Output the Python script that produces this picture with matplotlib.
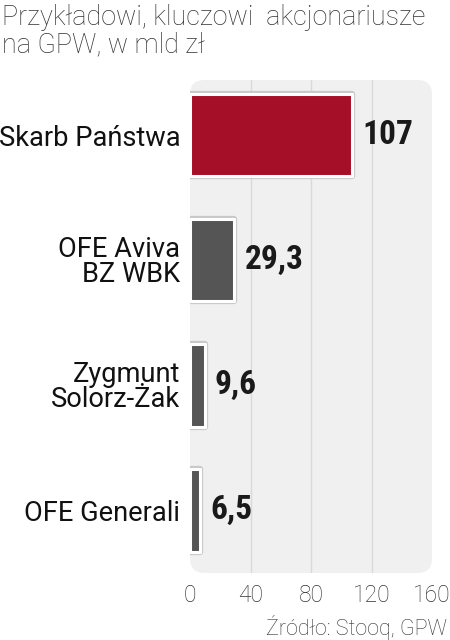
import matplotlib
matplotlib.use("Agg")
import matplotlib.pyplot as plt
from matplotlib.patches import FancyBboxPatch
import matplotlib.patheffects as pe
from matplotlib import font_manager as fm

categories = ["Skarb Państwa", "OFE Aviva\nBZ WBK", "Zygmunt\nSolorz-Żak", "OFE Generali"]
values = [107, 29.3, 9.6, 6.5]
value_labels = ["107", "29,3", "9,6", "6,5"]
bar_colors = ["#a50f28", "#555555", "#555555", "#555555"]
xticks = [0, 40, 80, 120, 160]
title = "Przykładowi, kluczowi  akcjonariusze\nna GPW, w mld zł"
source = "Źródło: Stooq, GPW"

names = {f.name for f in fm.fontManager.ttflist}
narrow = "Roboto"
for cand in ["Roboto Condensed", "Liberation Sans Narrow", "DejaVu Sans Condensed"]:
    if cand in names:
        narrow = cand
        break

W, H = 450, 640
fig = plt.figure(figsize=(W / 100, H / 100), dpi=100)
ax = fig.add_axes([190 / W, 1 - 573 / H, (432 - 190) / W, (573 - 80) / H])
ax.set_facecolor("none")
for s in ax.spines.values():
    s.set_visible(False)

bg = FancyBboxPatch((0, 0), 1, 1, boxstyle="round,pad=0,rounding_size=0.06",
                    transform=ax.transAxes, facecolor="#f0f0f0", edgecolor="none",
                    zorder=0, mutation_aspect=242 / 493)
ax.add_patch(bg)

ypos = list(range(len(categories)))
bars = ax.barh(ypos, values, height=0.66, color=bar_colors, edgecolor="white",
               linewidth=2.2, zorder=3)
for b in bars:
    b.set_joinstyle("round")
    b.set_path_effects([pe.withStroke(linewidth=4.5, foreground="#c8c8c8"), pe.Normal()])

for x in xticks[1:-1]:
    ax.axvline(x, color="#d9d9d9", linewidth=1, zorder=1)

ax.set_xlim(0, 160)
ax.set_ylim(3.5, -0.44)
ax.set_xticks(xticks)
ax.set_xticklabels([str(t) for t in xticks], fontfamily="Roboto", fontweight="light",
                   fontsize=16.5, color="#333333")
ax.tick_params(axis="x", length=0, pad=8)
ax.set_yticks(ypos)
ax.set_yticklabels(categories, fontfamily="Roboto", fontsize=19.6, color="#111111",
                   linespacing=0.9)
ax.tick_params(axis="y", length=0, pad=7)

for y, v, lab in zip(ypos, values, value_labels):
    ax.annotate(lab, (v, y), xytext=(7.5, 0), textcoords="offset points",
                ha="left", va="center", fontfamily=narrow, fontweight="bold",
                fontsize=24, color="#1a1a1a")

fig.text(2 / W, 1 - 4 / H, title, ha="left", va="top", fontfamily="Roboto",
         fontweight="light", fontsize=19.4, color="#333333", linespacing=1.0)
fig.text(447 / W, 1 - 627 / H, source, ha="right", va="center", fontfamily="Roboto",
         fontweight="light", fontsize=15.5, color="#333333")

fig.savefig("out.png", dpi=100)
